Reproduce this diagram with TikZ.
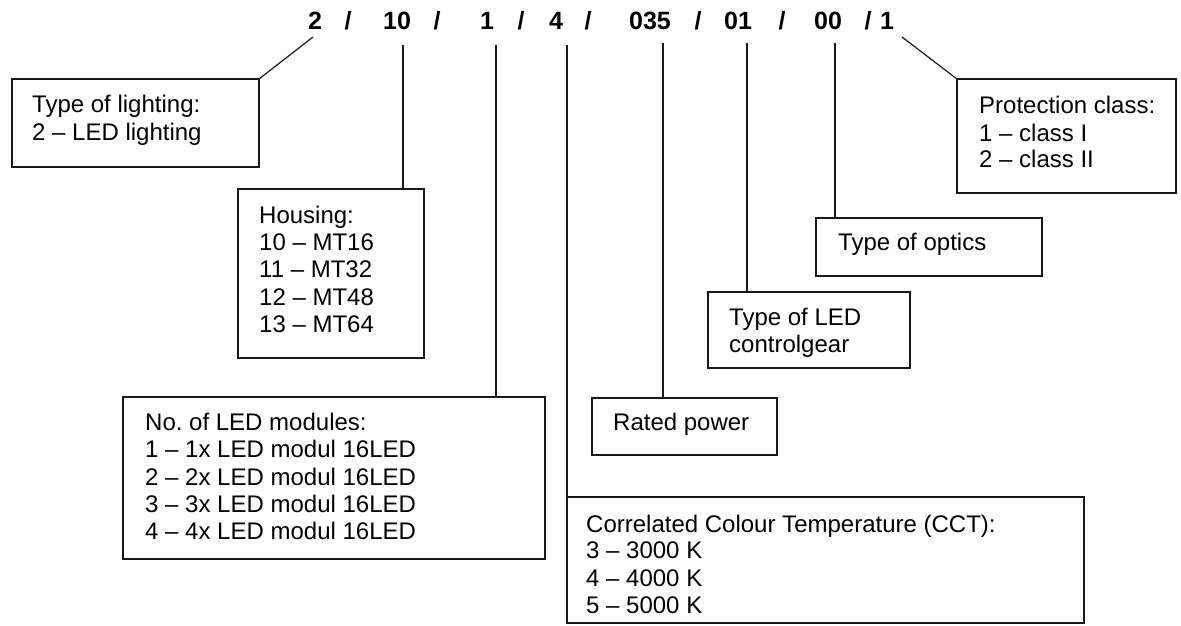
\documentclass[tikz,border=0pt]{standalone}
\usepackage{fontspec}
\setmainfont{Liberation Sans}
\frenchspacing
\begin{document}
\begin{tikzpicture}[x=1pt,y=-1pt,
  box/.style={draw=black!90, line width=1.2pt, inner sep=0pt, outer sep=0pt, anchor=north west},
  txt/.style={anchor=base west, inner sep=0pt, font=\fontsize{24}{27.5}\selectfont, text=black},
  num/.style={anchor=base, inner sep=0pt, font=\fontsize{25}{30}\selectfont\bfseries, text=black},
  conn/.style={draw=black!90, line width=1.2pt}]
\useasboundingbox[fill=white] (0,0) rectangle (1181,625);

% code numbers
\node[num] (n2) at (315,29) {2};
\node[num] (s1) at (348,29) {/};
\node[num] (n10) at (397,29) {10};
\node[num] (s2) at (437,29) {/};
\node[num] (n1) at (487,29) {1};
\node[num] (s3) at (521,29) {/};
\node[num] (n4) at (556,29) {4};
\node[num] (s4) at (588,29) {/};
\node[num] (n035) at (650,29) {035};
\node[num] (s5) at (698,29) {/};
\node[num] (n01) at (738,29) {01};
\node[num] (s6) at (782,29) {/};
\node[num] (n00) at (828,29) {00};
\node[num] (s7) at (868,29) {/};
\node[num] (nP) at (887,29) {1};

% boxes
\node[box, minimum width=247pt, minimum height=88pt] (light) at (12,79) {};
\node[box, minimum width=186pt, minimum height=169pt] (house) at (238,189) {};
\node[box, minimum width=422pt, minimum height=162pt] (mods) at (123,397) {};
\node[box, minimum width=517pt, minimum height=126pt] (cct) at (567,497) {};
\node[box, minimum width=185pt, minimum height=57pt] (power) at (592,398) {};
\node[box, minimum width=202pt, minimum height=76pt] (gear) at (708,292) {};
\node[box, minimum width=226pt, minimum height=58pt] (optics) at (816,218) {};
\node[box, minimum width=219pt, minimum height=114pt] (prot) at (957,79) {};

% texts
\node[txt] (l1a) at (32,112) {Type of lighting:};
\node[txt] (l1b) at (32,140) {2 – LED lighting};

\node[txt] (h1) at (259,223) {Housing:};
\node[txt] (h2) at (259,250) {10 – MT16};
\node[txt] (h3) at (259,277) {11 – MT32};
\node[txt] (h4) at (259,305) {12 – MT48};
\node[txt] (h5) at (259,332) {13 – MT64};

\node[txt] (m1) at (145,430) {No. of LED modules:};
\node[txt] (m2) at (145,457) {1 – 1x LED modul 16LED};
\node[txt] (m3) at (145,485) {2 – 2x LED modul 16LED};
\node[txt] (m4) at (145,512) {3 – 3x LED modul 16LED};
\node[txt] (m5) at (145,539) {4 – 4x LED modul 16LED};

\node[txt] (c1) at (586,532) {Correlated Colour Temperature (CCT):};
\node[txt] (c2) at (586,558) {3 – 3000 K};
\node[txt] (c3) at (586,586) {4 – 4000 K};
\node[txt] (c4) at (586,613) {5 – 5000 K};

\node[txt] (p1) at (613,430) {Rated power};

\node[txt] (g1) at (729,325) {Type of LED};
\node[txt] (g2) at (729,352) {controlgear};

\node[txt] (o1) at (838,250) {Type of optics};

\node[txt] (r1) at (979,113) {Protection class:};
\node[txt] (r2) at (979,141) {1 – class I};
\node[txt] (r3) at (979,167) {2 – class II};

% connectors
\coordinate (t2) at (313,37);
\coordinate (t10) at (403,45);
\coordinate (t1) at (496,45);
\coordinate (t4) at (567,45);
\coordinate (t035) at (663,43);
\coordinate (t01) at (747,43);
\coordinate (t00) at (835,43);
\coordinate (tP) at (902,37);

\draw[conn] (t2) -- (light.north east);
\draw[conn] (t10) -- (t10 |- house.north);
\draw[conn] (t1) -- (t1 |- mods.north);
\draw[conn] (t4) -- (cct.north west);
\draw[conn] (t035) -- (t035 |- power.north);
\draw[conn] (t01) -- (t01 |- gear.north);
\draw[conn] (t00) -- (t00 |- optics.north);
\draw[conn] (tP) -- (prot.north west);
\end{tikzpicture}
\end{document}
